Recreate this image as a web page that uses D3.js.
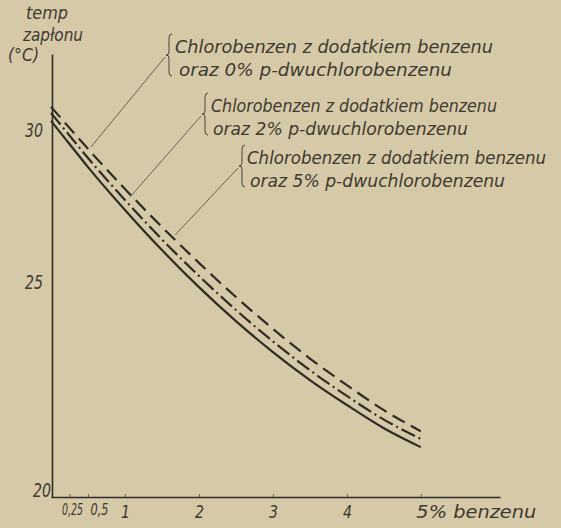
<!DOCTYPE html>
<html>
<head>
<meta charset="utf-8">
<script src="https://cdn.jsdelivr.net/npm/d3@7"></script>
<style>
  html, body { margin: 0; padding: 0; background: #d6c9a8; }
  svg { display: block; }
  text { font-family: "DejaVu Sans Condensed", "DejaVu Sans", sans-serif; font-style: italic; fill: #40392f; }
</style>
</head>
<body>
<svg id="chart" width="561" height="528"></svg>
<script>
// ---- data ----
const benzenePct = [0, 0.25, 0.5, 1, 1.5, 2, 2.5, 3, 3.5, 4, 4.5, 5];
const temp0pct = [30.76, 30.07, 29.38, 28.06, 26.81, 25.63, 24.65, 23.91, 23.22, 22.60, 22.02, 21.53];
const temp2pct = [30.56, 29.82, 29.08, 27.70, 26.40, 25.20, 24.35, 23.62, 22.95, 22.35, 21.80, 21.35];
const temp5pct = [30.30, 29.54, 28.78, 27.37, 26.05, 24.88, 24.09, 23.37, 22.72, 22.14, 21.60, 21.16];
const xTicks = [0.25, 0.5, 1, 2, 3, 4, 5];
const yTicks = [20, 25, 30];
const seriesNames = ["0%", "2%", "5%"];
const labelLine1 = "Chlorobenzen z dodatkiem benzenu";
const labelLine2 = ["oraz 0%  p-dwuchlorobenzenu", "oraz 2%  p-dwuchlorobenzenu", "oraz 5%  p-dwuchlorobenzenu"];
// leader-line anchor points near the curves (data units)
const anchorX = [0.54, 1.07, 1.68];
const anchorY = [29.44, 27.80, 26.55];

// ---- layout ----
const svg = d3.select("#chart");
const ink = "#2f2b25";

const x = d3.scaleLinear().domain([0, 6.07]).range([51, 500]);
// hand-drawn original: uneven vertical spacing, reproduced with a piecewise scale
const y = d3.scaleLinear().domain([20, 25, 32.5]).range([497, 282, 54]);

// axes
const xAxis = d3.axisBottom(x).tickValues(xTicks).tickSize(-3).tickSizeOuter(0)
  .tickFormat(d => d === 5 ? "5% benzenu" : String(d).replace(".", ","));
const gx = svg.append("g").attr("transform", `translate(0,${y(20)})`).call(xAxis);
gx.select(".domain").attr("stroke", ink).attr("stroke-width", 1.6);
gx.selectAll(".tick line").attr("stroke", "#6b6357").attr("stroke-width", 1);
gx.selectAll(".tick text")
  .attr("font-size", 18).attr("fill", "#40392f").attr("y", 8).attr("dy", "0.71em")
  .style("font-family", '"DejaVu Sans Condensed", "DejaVu Sans", sans-serif')
  .each(function(d) {
    const t = d3.select(this);
    if (d === 0.25) { t.attr("font-size", 15).attr("y", 7).attr("dx", 2.5).attr("textLength", 21).attr("lengthAdjust", "spacingAndGlyphs"); }
    else if (d === 0.5) { t.attr("font-size", 15).attr("y", 7).attr("dx", 11).attr("textLength", 18).attr("lengthAdjust", "spacingAndGlyphs"); }
    else if (d === 5) { t.attr("text-anchor", "start").attr("dx", -5).attr("textLength", 120).attr("lengthAdjust", "spacingAndGlyphs"); }
    else { t.attr("textLength", 9).attr("lengthAdjust", "spacingAndGlyphs"); }
  });

const yAxis = d3.axisLeft(y).tickValues(yTicks).tickSize(0).tickPadding(9);
const gy = svg.append("g").attr("transform", `translate(${x(0) + 1},0)`).call(yAxis);
gy.select(".domain").attr("stroke", ink).attr("stroke-width", 1.6);
gy.selectAll(".tick text")
  .attr("font-size", 20).attr("fill", "#40392f")
  .attr("textLength", 18).attr("lengthAdjust", "spacingAndGlyphs")
  .style("font-family", '"DejaVu Sans Condensed", "DejaVu Sans", sans-serif')
  .each(function(d) {
    if (d === 20) d3.select(this).attr("x", -1).attr("dy", "-0.05em");
  });

// axis title
const title = svg.append("g");
title.append("text").attr("x", 26).attr("y", 19).attr("font-size", 18)
  .attr("textLength", 42).attr("lengthAdjust", "spacingAndGlyphs").text("temp");
title.append("text").attr("x", 23).attr("y", 41).attr("font-size", 17)
  .attr("textLength", 60).attr("lengthAdjust", "spacingAndGlyphs").text("zapłonu");
title.append("text").attr("x", 8).attr("y", 61).attr("font-size", 17)
  .attr("textLength", 31).attr("lengthAdjust", "spacingAndGlyphs").text("(°C)");

// curves
const series = [
  { name: seriesNames[0], values: temp0pct, dash: "14,7", width: 2.2 },
  { name: seriesNames[1], values: temp2pct, dash: "15,4,2,4", width: 2.2 },
  { name: seriesNames[2], values: temp5pct, dash: null, width: 2.2 }
];
const line = d3.line().x((d, i) => x(benzenePct[i])).y(d => y(d)).curve(d3.curveMonotoneX);
svg.append("g").selectAll("path").data(series).join("path")
  .attr("d", d => line(d.values))
  .attr("fill", "none")
  .attr("stroke", ink)
  .attr("stroke-width", d => d.width)
  .attr("stroke-dasharray", d => d.dash);

// annotations (layout of the hand-lettered labels)
const labelLayout = [
  { bx: 170, tx: 175, tx2: 179, y1: 47, y2: 70, w1: 318, w2: 273 },
  { bx: 206, tx: 211, tx2: 213, y1: 106, y2: 129, w1: 286, w2: 255 },
  { bx: 243, tx: 247, tx2: 250, y1: 158, y2: 181, w1: 299, w2: 255 }
];
const ann = svg.append("g");
labelLayout.forEach((L, i) => {
  const top = L.y1 - 13, bot = L.y2 + 6, mid = (top + bot) / 2;
  const bx = L.bx;
  ann.append("path")
    .attr("d", `M${bx + 2},${top} Q${bx - 1},${top} ${bx - 1},${top + 4} L${bx - 1},${mid - 3} Q${bx - 1},${mid} ${bx - 4},${mid} Q${bx - 1},${mid} ${bx - 1},${mid + 3} L${bx - 1},${bot - 4} Q${bx - 1},${bot} ${bx + 2},${bot}`)
    .attr("fill", "none").attr("stroke", "#4a443b").attr("stroke-width", 1);
  ann.append("line")
    .attr("x1", bx - 5).attr("y1", mid + 2)
    .attr("x2", x(anchorX[i])).attr("y2", y(anchorY[i]))
    .attr("stroke", "#6a6255").attr("stroke-width", 1);
  ann.append("text").attr("x", L.tx).attr("y", L.y1 + 6).attr("font-size", 18)
    .attr("textLength", L.w1).attr("lengthAdjust", "spacingAndGlyphs").text(labelLine1);
  ann.append("text").attr("x", L.tx2).attr("y", L.y2 + 6).attr("font-size", 18)
    .attr("textLength", L.w2).attr("lengthAdjust", "spacingAndGlyphs").text(labelLine2[i]);
});
</script>
</body>
</html>
